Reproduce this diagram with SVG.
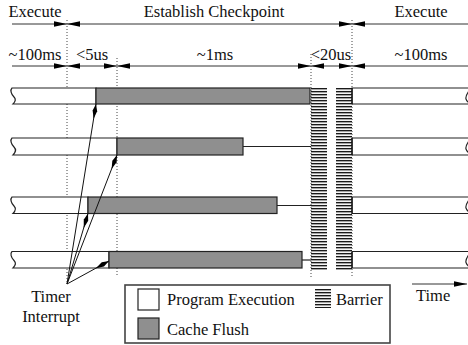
<svg xmlns="http://www.w3.org/2000/svg" width="468" height="345" viewBox="0 0 468 345">
<style>
text{font-family:"Liberation Serif","Times New Roman",serif;font-size:16.5px;fill:#111}
.dim{stroke:#333;stroke-width:1;fill:none}
.dot{stroke:#444;stroke-width:1;stroke-dasharray:1 2;fill:none}
.wb{fill:#fff;stroke:#222;stroke-width:1.2}
.gb{fill:#8f8f8f;stroke:#222;stroke-width:1.2}
.tl{stroke:#222;stroke-width:1.2;fill:none}
.ti{stroke:#111;stroke-width:1;fill:none}
</style>
<defs>
<marker id="ah" markerUnits="userSpaceOnUse" markerWidth="1" markerHeight="1" refX="0" refY="0" orient="auto-start-reverse" overflow="visible">
<path d="M0,0 L-13,-2.7 L-13,2.7 Z" fill="#000"/>
</marker>
<marker id="kt" markerUnits="userSpaceOnUse" markerWidth="1" markerHeight="1" refX="0" refY="0" orient="auto" overflow="visible">
<path d="M0,0 L-7,-2.3 L-15,0 L-7,2.3 Z" fill="#000"/>
</marker>
<pattern id="hatch" patternUnits="userSpaceOnUse" x="0" y="88" width="4" height="3">
<rect x="0" y="0" width="4" height="1.2" fill="#1a1a1a"/>
<rect x="0" y="1.2" width="4" height="0.9" fill="#9a9a9a"/>
</pattern>
</defs>

<g id="labels">
<text x="35" y="17" text-anchor="middle">Execute</text>
<text x="214" y="17" text-anchor="middle">Establish Checkpoint</text>
<text x="421" y="17" text-anchor="middle">Execute</text>
<text x="35" y="60" text-anchor="middle">~100ms</text>
<text x="92" y="60" text-anchor="middle">&lt;5us</text>
<text x="215" y="60" text-anchor="middle">~1ms</text>
<text x="331" y="60" text-anchor="middle">&lt;20us</text>
<text x="421" y="60" text-anchor="middle">~100ms</text>
</g>

<g id="guides">
<line class="dot" x1="67" y1="20" x2="67" y2="284"/>
<line class="dot" x1="117" y1="58" x2="117" y2="275"/>
<line class="dot" x1="311" y1="54" x2="311" y2="278"/>
<line class="dot" x1="352" y1="20" x2="352" y2="278"/>
</g>

<g id="row1">
<path class="wb" d="M12,88 L96,88 L96,104 L13,104 C16,101 16,99 14,97 C11,94 10,90 12,88 Z"/>
<rect class="gb" x="96" y="88" width="214" height="16"/>
<path class="wb" d="M352,88 L471,88 C468,92 465,96 466,99 C467,102 469,103 471,104 L352,104 Z"/>
</g>
<g id="row2">
<path class="wb" d="M12,138 L117,138 L117,155 L13,155 C16,152 16,149 14,147 C11,144 10,140 12,138 Z"/>
<rect class="gb" x="117" y="138" width="126" height="17"/>
<line class="tl" x1="243" y1="146.5" x2="311" y2="146.5"/>
<path class="wb" d="M352,138 L471,138 C468,142 465,146 466,149 C467,152 469,153 471,155 L352,155 Z"/>
</g>
<g id="row3">
<path class="wb" d="M12,197 L88,197 L88,213.5 L13,213.5 C16,210.5 16,208 14,206 C11,203 10,199 12,197 Z"/>
<rect class="gb" x="88" y="197" width="189" height="16.5"/>
<line class="tl" x1="277" y1="205.5" x2="311" y2="205.5"/>
<path class="wb" d="M352,197 L471,197 C468,201 465,205 466,208 C467,211 469,212 471,213.5 L352,213.5 Z"/>
</g>
<g id="row4">
<path class="wb" d="M12,251.5 L109,251.5 L109,268 L13,268 C16,265 16,262.5 14,260.5 C11,257.5 10,253.5 12,251.5 Z"/>
<rect class="gb" x="109" y="251.5" width="193" height="16.5"/>
<line class="tl" x1="302" y1="260" x2="311" y2="260"/>
<path class="wb" d="M352,251.5 L471,251.5 C468,255.5 465,259.5 466,262.5 C467,265.5 469,266.5 471,268 L352,268 Z"/>
</g>

<g id="barrier">
<rect x="311" y="88" width="16" height="182" fill="url(#hatch)"/>
<rect x="336" y="88" width="16" height="182" fill="url(#hatch)"/>
<line x1="352" y1="88" x2="352" y2="104" stroke="#111" stroke-width="1.3"/>
<line x1="352" y1="138" x2="352" y2="155" stroke="#111" stroke-width="1.3"/>
<line x1="352" y1="197" x2="352" y2="213.5" stroke="#111" stroke-width="1.3"/>
<line x1="352" y1="251.5" x2="352" y2="268" stroke="#111" stroke-width="1.3"/>
</g>

<g id="connectors">
<line class="dim" x1="12" y1="24" x2="67" y2="24" marker-end="url(#ah)"/>
<line class="dim" x1="67" y1="24" x2="352" y2="24" marker-start="url(#ah)" marker-end="url(#ah)"/>
<line class="dim" x1="352" y1="24" x2="468" y2="24" marker-start="url(#ah)"/>
<line class="dim" x1="12" y1="66" x2="67" y2="66" marker-end="url(#ah)"/>
<line class="dim" x1="67" y1="66" x2="117" y2="66" marker-start="url(#ah)" marker-end="url(#ah)"/>
<line class="dim" x1="117" y1="66" x2="311" y2="66" marker-start="url(#ah)" marker-end="url(#ah)"/>
<line class="dim" x1="311" y1="66" x2="352" y2="66" marker-start="url(#ah)" marker-end="url(#ah)"/>
<line class="dim" x1="352" y1="66" x2="468" y2="66" marker-start="url(#ah)"/>
<line class="ti" x1="67" y1="284" x2="96" y2="104" marker-end="url(#kt)"/>
<line class="ti" x1="67" y1="284" x2="117" y2="155" marker-end="url(#kt)"/>
<line class="ti" x1="67" y1="284" x2="88" y2="213.5" marker-end="url(#kt)"/>
<line class="ti" x1="67" y1="284" x2="109" y2="261" marker-end="url(#kt)"/>
<line class="dim" x1="412" y1="284" x2="467" y2="284" marker-end="url(#ah)"/>
</g>

<g id="timer">
<text x="51" y="302" text-anchor="middle">Timer</text>
<text x="51" y="322" text-anchor="middle">Interrupt</text>
</g>
<g id="time">
<text x="416" y="301">Time</text>
</g>

<g id="legend">
<rect x="125" y="285" width="265" height="58" fill="#fff" stroke="#444" stroke-width="1.6"/>
<rect x="138" y="289" width="21" height="21" fill="#fff" stroke="#222" stroke-width="1.2"/>
<rect x="138" y="318" width="21" height="21" fill="#8f8f8f" stroke="#222" stroke-width="1.2"/>
<text x="167" y="305">Program Execution</text>
<text x="167" y="335">Cache Flush</text>
<rect x="315" y="289" width="16" height="19" fill="url(#hatch)"/>
<text x="336" y="305">Barrier</text>
</g>
</svg>
